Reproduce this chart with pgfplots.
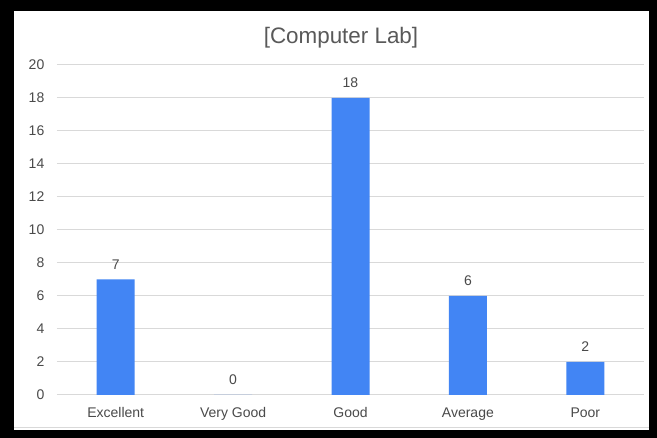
\documentclass[border=0pt]{standalone}
\usepackage{fontspec}
\setmainfont{Liberation Sans}
\usepackage{pgfplots}
\pgfplotsset{compat=1.18}
\definecolor{barblue}{HTML}{4285F4}
\definecolor{gridgrey}{HTML}{D9D9D9}
\definecolor{txtgrey}{HTML}{4A4A4A}
\definecolor{titlegrey}{HTML}{595959}
\begin{document}
\begin{tikzpicture}[x=0.75pt,y=0.75pt]
% black frame round the chart
\fill[black] (0,0) rectangle (657,438);
\fill[white] (14,8) rectangle (649,427);
\draw[gridgrey, line width=0.75pt] (14,10) -- (649,10);
\node[font=\fontsize{16.8}{19}\selectfont, text=titlegrey] at (341,400) {[Computer Lab]};
\begin{axis}[
    at={(42.75pt,32.25pt)},
    anchor=south west,
    scale only axis,
    width=440.25pt,
    height=247.5pt,
    ybar,
    bar width=28.5pt,
    xmin=-0.5, xmax=4.5,
    ymin=0, ymax=20,
    xtick={0,...,4},
    xticklabels={Excellent,Very Good,Good,Average,Poor},
    ytick={0,2,...,20},
    ymajorgrids,
    grid style={gridgrey, line width=0.75pt},
    axis line style={draw=none},
    major tick length=0pt,
    tick label style={font=\fontsize{10.5}{12}\selectfont, text=txtgrey},
    yticklabel style={anchor=east, xshift=-6pt},
    xticklabel style={yshift=-6pt},
    /pgf/number format/assume math mode=true,
    nodes near coords,
    nodes near coords style={font=\fontsize{10.5}{12}\selectfont, text=txtgrey},
    every node near coord/.append style={yshift=4pt},
]
\addplot[fill=barblue, draw=none] coordinates {
    (0, 7)
    (1, 0)
    (2, 18)
    (3, 6)
    (4, 2)
};
\end{axis}
\end{tikzpicture}
\end{document}
